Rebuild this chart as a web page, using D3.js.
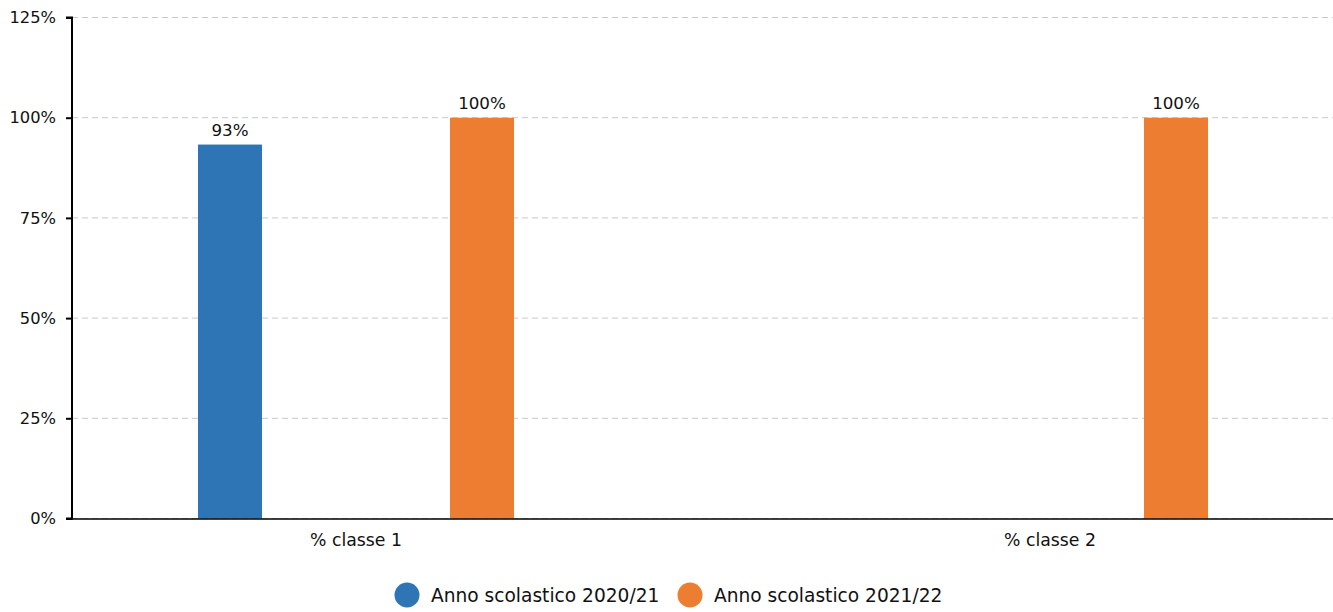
<!DOCTYPE html>
<html><head><meta charset="utf-8">
<script src="https://cdn.jsdelivr.net/npm/d3@7"></script>
<style>body{margin:0;background:#fff;} text{font-family:"DejaVu Sans",Verdana,sans-serif;}</style>
</head><body>
<svg id="c" width="1333" height="612"></svg>
<script>
const categories = ["% classe 1", "% classe 2"];
const seriesNames = ["Anno scolastico 2020/21", "Anno scolastico 2021/22"];
const seriesValues = [[93.3, null], [100, 100]];
const colors = ["#2E75B6", "#ED7D31"];
const yTicks = [0, 25, 50, 75, 100, 125];

const svg = d3.select("#c");
const mLeft = 72, mRight = 1333, mTop = 17.5, mBottom = 518.5;
const y = d3.scaleLinear().domain([0, 125]).range([mBottom, mTop]);
const x = d3.scaleBand().domain(categories).range([9, 1397]).paddingInner(0).paddingOuter(0);
const xs = d3.scaleBand().domain(seriesNames).range([0, x.bandwidth()]).paddingInner(0.746).paddingOuter(0.75);

// grid
svg.append("g").selectAll("line").data(yTicks).join("line")
  .attr("x1", mLeft).attr("x2", mRight).attr("y1", d => y(d)).attr("y2", d => y(d))
  .attr("stroke", "#c8c8c8").attr("stroke-dasharray", "6,4").attr("stroke-width", 1);

// bars
seriesNames.forEach((s, si) => {
  const data = categories.map((c, ci) => ({c, v: seriesValues[si][ci]})).filter(d => d.v != null);
  const g = svg.append("g");
  g.selectAll("rect").data(data).join("rect")
    .attr("x", d => x(d.c) + xs(s)).attr("width", xs.bandwidth())
    .attr("y", d => y(d.v)).attr("height", d => y(0) - y(d.v))
    .attr("fill", colors[si]);
  g.selectAll("text").data(data).join("text")
    .attr("x", d => x(d.c) + xs(s) + xs.bandwidth() / 2).attr("y", d => y(d.v) - 9)
    .attr("text-anchor", "middle").attr("font-size", 16.7).attr("fill", "#111")
    .text(d => Math.round(d.v) + "%");
});

// y axis
const ya = svg.append("g").attr("transform", `translate(${mLeft},0)`)
  .call(d3.axisLeft(y).tickValues(yTicks).tickFormat(d => d + "%").tickSize(6).tickPadding(10));
ya.select(".domain").attr("stroke", "#000").attr("stroke-width", 2).attr("d", `M-6,${mTop}H0V${mBottom}H-6`);
ya.selectAll(".tick line").attr("stroke", "#000").attr("stroke-width", 2);
ya.selectAll(".tick text").attr("font-size", 16.3).attr("fill", "#111").attr("font-family", "DejaVu Sans");

// x axis
svg.append("line").attr("x1", mLeft).attr("x2", mRight).attr("y1", mBottom + 0.5).attr("y2", mBottom + 0.5)
  .attr("stroke", "#000").attr("stroke-width", 1.5);
const xa = svg.append("g").attr("transform", `translate(0,${mBottom})`)
  .call(d3.axisBottom(x).tickSize(0).tickPadding(15));
xa.select(".domain").remove();
xa.selectAll(".tick text").attr("font-size", 17.3).attr("fill", "#111").attr("font-family", "DejaVu Sans");

// legend
const leg = svg.append("g");
const lx = [407, 690];
seriesNames.forEach((s, i) => {
  leg.append("circle").attr("cx", lx[i]).attr("cy", 595).attr("r", 12.5).attr("fill", colors[i]);
  leg.append("text").attr("x", lx[i] + 24).attr("y", 601.5).attr("font-size", 18.6).attr("fill", "#111").text(s);
});
</script>
</body></html>
